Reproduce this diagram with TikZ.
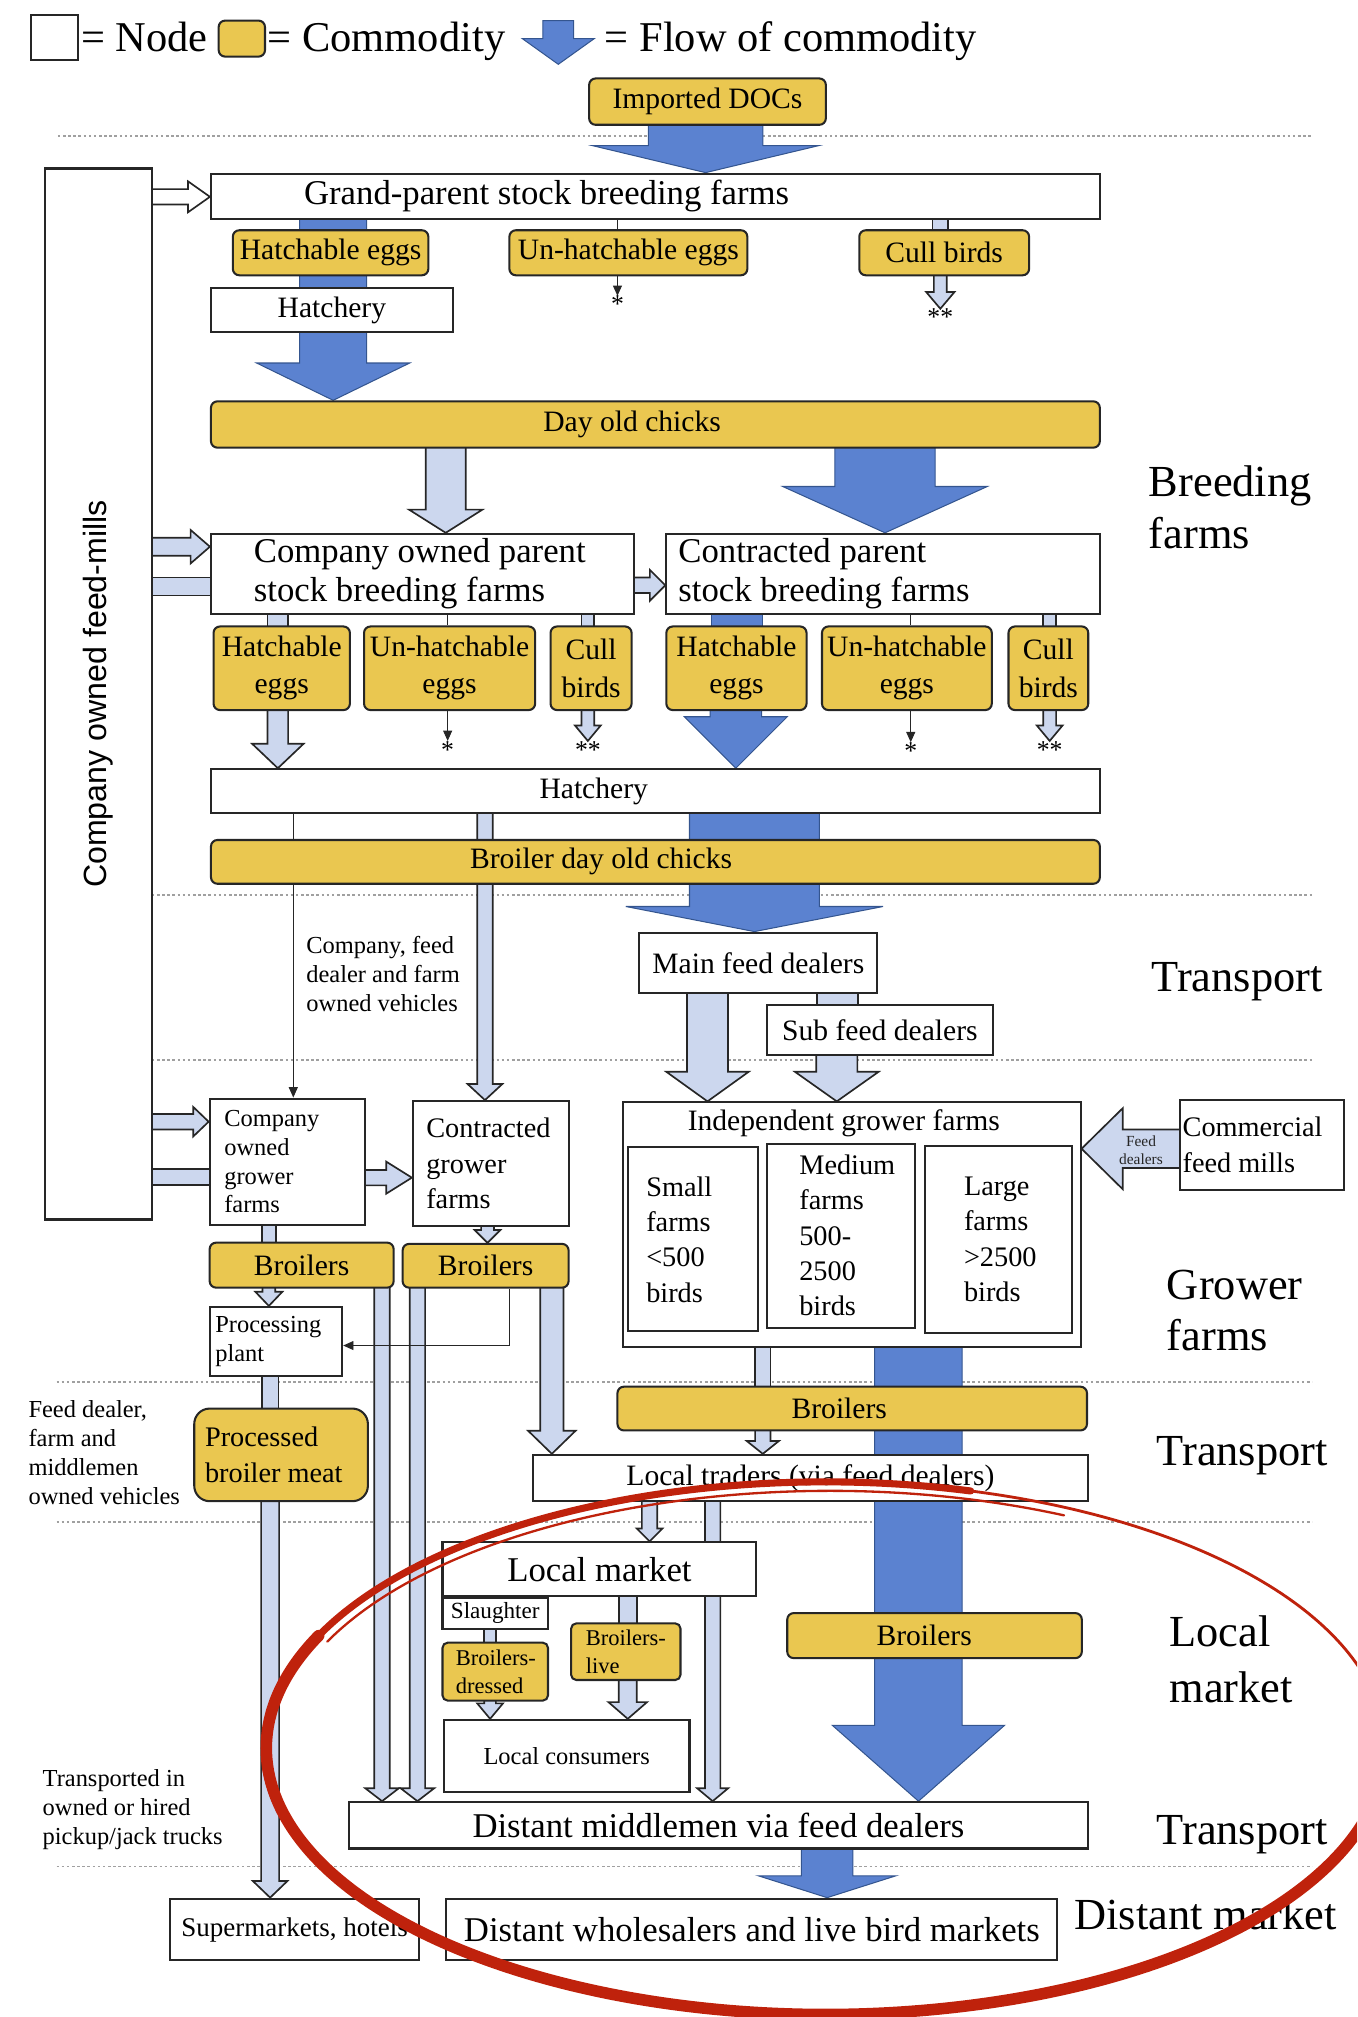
\documentclass[tikz,border=0pt]{standalone}
\usepackage{fontspec}
\usepackage{graphicx}
\setmainfont{Liberation Serif}
\newfontfamily\arialfont{Liberation Sans}
\usetikzlibrary{calc,arrows.meta}
\pgfdeclarelayer{background}
\pgfsetlayers{background,main}
\definecolor{commodity}{HTML}{EAC750}
\definecolor{flowblue}{HTML}{5B82D0}
\definecolor{flowedge}{HTML}{34558F}
\definecolor{palefill}{HTML}{CCD7EE}
\definecolor{edgegray}{HTML}{262626}
\definecolor{dotgray}{HTML}{A0A0A0}
\definecolor{annot}{HTML}{BF220C}
\newcommand{\fsz}[2]{\fontsize{#1pt}{#2pt}\selectfont}
% box from corners, centred text
\newcommand{\mkbox}[7]{%
  \pgfmathsetmacro{\mkW}{#5-#3}\pgfmathsetmacro{\mkH}{#6-#4}%
  \pgfmathsetmacro{\mkX}{(#3+#5)/2}\pgfmathsetmacro{\mkY}{(#4+#6)/2}%
  \node[#2, minimum width=\mkW pt, minimum height=\mkH pt] (#1) at (\mkX,\mkY) {#7};}
% box from corners, text left aligned with a left pad
\newcommand{\mkboxl}[9]{%
  \pgfmathsetmacro{\mkW}{#7-#5}\pgfmathsetmacro{\mkH}{#8-#6}%
  \pgfmathsetmacro{\mkX}{(#5+#7)/2}\pgfmathsetmacro{\mkY}{(#6+#8)/2}%
  \node[#2, minimum width=\mkW pt, minimum height=\mkH pt,
    label={[anchor=west, xshift=#4pt, align=left, inner sep=0pt, #3]west:#9}] (#1) at (\mkX,\mkY) {};}
% block arrow downwards: style, x, from anchor, to anchor, shaft half, head half, head length
\newcommand{\flowdown}[7]{%
  \path[#1] let \p1=(#3), \p2=(#4) in
   ({(#2-#5)*1pt},{\y1+2pt}) -- ({(#2-#5)*1pt},{\y2+#7pt}) -- ({(#2-#6)*1pt},{\y2+#7pt})
   -- ({#2*1pt},\y2) -- ({(#2+#6)*1pt},{\y2+#7pt}) -- ({(#2+#5)*1pt},{\y2+#7pt})
   -- ({(#2+#5)*1pt},{\y1+2pt}) -- cycle;}
\newcommand{\flowbarv}[5]{%
  \path[#1] let \p1=(#3), \p2=(#4) in
   ({(#2-#5)*1pt},{\y1+2pt}) rectangle ({(#2+#5)*1pt},{\y2-2pt});}
\newcommand{\flowright}[7]{%
  \path[#1] let \p1=(#3), \p2=(#4) in
   ({\x1-2pt},{-(#2-#5)*1pt}) -- ({\x2-#7pt},{-(#2-#5)*1pt}) -- ({\x2-#7pt},{-(#2-#6)*1pt})
   -- (\x2,{-#2*1pt}) -- ({\x2-#7pt},{-(#2+#6)*1pt}) -- ({\x2-#7pt},{-(#2+#5)*1pt})
   -- ({\x1-2pt},{-(#2+#5)*1pt}) -- cycle;}
\newcommand{\flowleft}[7]{%
  \path[#1] let \p1=(#3), \p2=(#4) in
   ({\x1+2pt},{-(#2-#5)*1pt}) -- ({\x2+#7pt},{-(#2-#5)*1pt}) -- ({\x2+#7pt},{-(#2-#6)*1pt})
   -- (\x2,{-#2*1pt}) -- ({\x2+#7pt},{-(#2+#6)*1pt}) -- ({\x2+#7pt},{-(#2+#5)*1pt})
   -- ({\x1+2pt},{-(#2+#5)*1pt}) -- cycle;}
\newcommand{\flowbarh}[5]{%
  \path[#1] let \p1=(#3), \p2=(#4) in
   ({\x1-2pt},{-(#2-#5)*1pt}) rectangle ({\x2+2pt},{-(#2+#5)*1pt});}
\newcommand{\vlink}[4]{%
  \draw[#1] let \p1=(#3), \p2=(#4) in ({#2*1pt},\y1) -- ({#2*1pt},\y2);}

\tikzset{
  nodebox/.style={draw=edgegray, line width=1.6pt, fill=white, inner sep=0pt},
  combox/.style={draw=edgegray, line width=1.6pt, fill=commodity, rounded corners=5pt, inner sep=0pt},
  bigtxt/.style={font=\fsz{27}{30}},
  midtxt/.style={font=\fsz{23}{29}},
  farmtxt/.style={font=\fsz{22}{27.5}},
  smtxt/.style={font=\fsz{19}{22.5}},
  tinytxt/.style={font=\fsz{17.5}{22}},
  regtxt/.style={font=\fsz{34.5}{40}, align=left, inner sep=0pt},
  startxt/.style={font=\fsz{20}{20}, inner sep=0pt, anchor=north},
  blueflow/.style={fill=flowblue, draw=flowedge, line width=0.8pt},
  paleflow/.style={fill=palefill, draw=edgegray, line width=1.3pt},
  whiteflow/.style={fill=white, draw=edgegray, line width=1.3pt},
  thinlink/.style={draw=edgegray, line width=0.7pt},
  thinarrow/.style={thinlink, -{Triangle[length=8pt,width=7pt]}},
  divider/.style={draw=dotgray, line width=1.5pt, dash pattern=on 2pt off 2pt},
  redmark/.style={draw=annot, line cap=round},
}

\begin{document}
\begin{tikzpicture}[x=1pt,y=-1pt]
\useasboundingbox (0,0) rectangle (1055,1568);

% ---------- legend ----------
\mkbox{lgnode}{nodebox}{24}{12}{61}{47}{}
\node[anchor=base west, font=\fsz{33}{38}, inner sep=0pt] (lgnodet) at (63,40) {= Node};
\mkbox{lgcomm}{combox}{170}{16}{206}{44}{}
\node[anchor=base west, font=\fsz{33}{38}, inner sep=0pt] (lgcommt) at (208,40) {= Commodity};
\path[blueflow] (422,16) -- (422,30) -- (406,30) -- (434,50) -- (462,30) -- (446,30) -- (446,16) -- cycle;
\node[anchor=base west, font=\fsz{33}{38}, inner sep=0pt] (lgflowt) at (470,40) {= Flow of commodity};

% ---------- breeding farms ----------
\mkbox{imp}{combox, midtxt}{458}{61}{642}{97}{Imported DOCs}
\mkbox{fm}{nodebox}{35}{131}{118}{948}{\rotatebox{90}{\arialfont\fsz{25}{30}Company owned feed-mills}}
\mkboxl{gp}{nodebox}{bigtxt}{73}{164}{135}{855}{170}{Grand-parent stock breeding farms}
\mkbox{he1}{combox, midtxt}{181}{179}{333}{214}{Hatchable eggs}
\mkbox{uh1}{combox, midtxt}{396}{179}{581}{214}{Un-hatchable eggs}
\mkbox{cb1}{combox, midtxt}{668}{179}{800}{214}{Cull birds}
\mkbox{hat1}{nodebox, midtxt}{164}{224}{352}{258}{Hatchery}
\node[startxt] (st1) at (480,230) {*};
\node[startxt] (st2) at (731,240) {**};
\mkboxl{doc}{combox}{midtxt}{259}{164}{312}{855}{348}{Day old chicks}
\mkboxl{cp}{nodebox}{bigtxt}{34}{164}{415}{493}{477}{Company owned parent\\stock breeding farms}
\mkboxl{kp}{nodebox}{bigtxt}{10}{518}{415}{855}{477}{Contracted parent\\stock breeding farms}
\mkbox{he2}{combox, midtxt, align=center}{166}{487}{272}{552}{Hatchable\\eggs}
\mkbox{uh2}{combox, midtxt, align=center}{283}{487}{416}{552}{Un-hatchable\\eggs}
\mkbox{cb2}{combox, midtxt, align=center}{428}{487}{491}{552}{Cull\\birds}
\mkbox{he3}{combox, midtxt, align=center}{518}{487}{627}{552}{Hatchable\\eggs}
\mkbox{uh3}{combox, midtxt, align=center}{639}{487}{771}{552}{Un-hatchable\\eggs}
\mkbox{cb3}{combox, midtxt, align=center}{784}{487}{846}{552}{Cull\\birds}
\node[startxt] (st3) at (348,576) {*};
\node[startxt] (st4) at (457,576) {**};
\node[startxt] (st5) at (708,577) {*};
\node[startxt] (st6) at (816,576) {**};
\mkboxl{hat2}{nodebox}{midtxt}{256}{164}{598}{855}{632}{Hatchery}
\mkboxl{bdoc}{combox}{midtxt}{202}{164}{653}{855}{687}{Broiler day old chicks}

% ---------- transport / grower farms ----------
\node[smtxt, align=left, anchor=west, inner sep=0pt] (vehlbl) at (238,757) {Company, feed\\dealer and farm\\owned vehicles};
\mkbox{mfd}{nodebox, midtxt}{497}{725}{682}{772}{Main feed dealers}
\mkbox{sfd}{nodebox, midtxt}{596}{781}{772}{820}{Sub feed dealers}
\mkboxl{cg}{nodebox}{smtxt}{12}{163}{854}{284}{952}{Company\\owned\\grower\\farms}
\mkboxl{kg}{nodebox}{farmtxt}{11}{321}{856}{442}{953}{Contracted\\grower\\farms}
\mkbox{ind}{nodebox, label={[midtxt, anchor=center, xshift=-6pt, yshift=-17pt]north:Independent grower farms}}{484}{857}{840}{1047}{}
\mkboxl{sm}{nodebox}{farmtxt}{15}{488}{892}{589}{1035}{Small\\farms\\<500\\birds}
\mkboxl{md}{nodebox}{farmtxt}{26}{596}{889}{711}{1032}{Medium\\farms\\500-\\2500\\birds}
\mkboxl{lg}{nodebox}{farmtxt}{31}{719}{891}{833}{1036}{Large\\farms\\>2500\\birds}
\mkboxl{cfm}{nodebox}{farmtxt}{3}{917}{855}{1045}{925}{Commercial\\feed mills}
\mkbox{brc}{combox, midtxt}{163}{966}{306}{1001}{Broilers}
\mkbox{brk}{combox, midtxt}{313}{967}{442}{1001}{Broilers}
\mkboxl{pp}{nodebox}{smtxt}{5}{163}{1016}{266}{1070}{Processing\\plant}
\mkboxl{pbm}{combox, rounded corners=12pt}{farmtxt}{9}{151}{1095}{286}{1167}{Processed\\broiler meat}
\node[smtxt, align=left, anchor=west, inner sep=0pt] (mvlbl) at (22,1129.5) {Feed dealer,\\farm and\\middlemen\\owned vehicles};
\mkboxl{bri}{combox}{midtxt}{136}{480}{1078}{845}{1112}{Broilers}
\mkbox{lt}{nodebox, midtxt}{414}{1131}{846}{1167}{Local traders (via feed dealers)}

% ---------- local market ----------
\mkbox{lm}{nodebox, bigtxt}{344}{1199}{588}{1241}{Local market}
\mkbox{sl}{nodebox, font=\fsz{18}{20}}{344}{1242}{426}{1266}{Slaughter}
\mkboxl{brd}{combox, rounded corners=4pt}{tinytxt}{11}{344}{1277}{426}{1322}{Broilers-\\dressed}
\mkboxl{brl}{combox, rounded corners=4pt}{tinytxt}{12}{444}{1262}{529}{1306}{Broilers-\\live}
\mkbox{lc}{nodebox, smtxt}{345}{1337}{536}{1393}{Local consumers}
\mkboxl{brr}{combox}{midtxt}{70}{612}{1254}{841}{1289}{Broilers}
\mkbox{dm}{nodebox, bigtxt}{271}{1401}{846}{1437}{Distant middlemen via feed dealers}
\node[smtxt, align=left, anchor=west, inner sep=0pt] (trlbl) at (33,1407) {Transported in\\owned or hired\\pickup/jack trucks};
\mkbox{sh}{nodebox, font=\fsz{21}{25}}{132}{1476}{326}{1524}{Supermarkets, hotels}
\mkbox{dw}{nodebox, bigtxt}{347}{1476}{822}{1524}{Distant wholesalers and live bird markets}

% ---------- region labels ----------
\node[regtxt, anchor=north west] (rbreed) at (893,362) {Breeding\\farms};
\node[regtxt, anchor=base west] (rtrans1) at (895,771) {Transport};
\node[regtxt, anchor=north west] (rgrow) at (907,987) {Grower\\farms};
\node[regtxt, anchor=base west] (rtrans2) at (899,1139) {Transport};
\node[regtxt, anchor=north west, font=\fsz{34.5}{43}] (rlocal) at (909,1256) {Local\\market};
\node[regtxt, anchor=base west] (rtrans3) at (899,1434) {Transport};
\node[regtxt, anchor=base west] (rdist) at (835,1500) {Distant market};

% ---------- connectors (behind the boxes) ----------
\begin{pgfonlayer}{background}
\draw[divider] (45,106) -- (1020,106);
\draw[divider] (118,696) -- (1020,696);
\draw[divider] (118,824) -- (1020,824);
\draw[divider] (44,1074) -- (1020,1074);
\draw[divider] (44,1183) -- (1020,1183);
\draw[divider] (44,1451) -- (1020,1451);

\flowdown{blueflow}{548.5}{imp.south}{gp.north}{44.5}{88}{21}
\flowdown{blueflow}{259}{gp.south}{doc.north}{26}{59.5}{29}
\vlink{thinlink}{480}{gp.south}{uh1.north}
\vlink{thinarrow}{480}{uh1.south}{st1.north}
\flowbarv{paleflow}{731}{gp.south}{cb1.north}{6}
\flowdown{paleflow}{731}{cb1.south}{st2.north}{5}{11}{13}
\flowright{whiteflow}{153}{fm.east}{gp.west}{6}{12}{17}

\flowdown{paleflow}{346.5}{doc.south}{cp.north}{15.5}{28.5}{18}
\flowdown{blueflow}{688}{doc.south}{kp.north}{39}{79.5}{36}
\flowright{paleflow}{425}{fm.east}{cp.west}{7}{13}{15}
\flowbarh{paleflow}{456}{fm.east}{cp.west}{7}
\flowright{paleflow}{455}{cp.east}{kp.west}{6}{12}{12}

\flowbarv{paleflow}{216}{cp.south}{he2.north}{8}
\flowdown{paleflow}{216}{he2.south}{hat2.north}{8}{20}{19}
\vlink{thinlink}{348}{cp.south}{uh2.north}
\vlink{thinarrow}{348}{uh2.south}{st3.north}
\flowbarv{paleflow}{457}{cp.south}{cb2.north}{5}
\flowdown{paleflow}{457}{cb2.south}{st4.north}{5}{10}{12}
\flowbarv{blueflow}{573}{kp.south}{he3.north}{20}
\flowdown{blueflow}{572}{he3.south}{hat2.north}{20}{40}{40}
\vlink{thinlink}{708}{kp.south}{uh3.north}
\vlink{thinarrow}{708}{uh3.south}{st5.north}
\flowbarv{paleflow}{816}{kp.south}{cb3.north}{5}
\flowdown{paleflow}{816}{cb3.south}{st6.north}{5}{10}{12}

\vlink{thinarrow}{228}{hat2.south}{cg.north}
\flowdown{paleflow}{377}{hat2.south}{kg.north}{6}{13.5}{12.5}
\flowdown{blueflow}{586.5}{hat2.south}{mfd.north}{50.5}{100}{19.5}
\flowdown{paleflow}{550}{mfd.south}{ind.north}{16}{32}{23}
\flowbarv{paleflow}{651}{mfd.south}{sfd.north}{16}
\flowdown{paleflow}{650.5}{sfd.south}{ind.north}{16}{32.5}{23}
\flowright{paleflow}{872}{fm.east}{cg.west}{6}{11.5}{12}
\flowbarh{paleflow}{915}{fm.east}{cg.west}{6}
\flowright{paleflow}{915.5}{cg.east}{kg.west}{6}{12.5}{20}
\flowleft{paleflow}{893}{cfm.west}{ind.east}{15}{31.5}{32}

\flowbarv{paleflow}{209}{cg.south}{brc.north}{5.5}
\flowdown{paleflow}{379}{kg.south}{brk.north}{5}{10}{10}
\flowdown{paleflow}{209}{brc.south}{pp.north}{5}{10.5}{11}
\flowdown{paleflow}{297}{brc.south}{dm.north}{6}{13}{10}
\flowdown{paleflow}{324.5}{brk.south}{dm.north}{6}{13}{10}
\flowdown{paleflow}{429}{brk.south}{lt.north}{9}{18.5}{18}
\flowbarv{paleflow}{210}{pp.south}{pbm.north}{6.5}
\flowdown{paleflow}{210}{pbm.south}{sh.north}{7}{13.5}{13}
\flowbarv{paleflow}{593}{ind.south}{bri.north}{6}
\flowdown{paleflow}{593}{bri.south}{lt.north}{6}{12.5}{10}
\flowdown{blueflow}{714}{ind.south}{dm.north}{34}{67}{59}
\flowdown{paleflow}{505}{lt.south}{lm.north}{6}{10}{10}
\flowdown{paleflow}{554}{lt.south}{dm.north}{6}{12}{10}
\flowbarv{paleflow}{488}{lm.south}{brl.north}{7}
\flowdown{paleflow}{488}{brl.south}{lc.north}{7}{15}{13}
\flowbarv{paleflow}{381}{sl.south}{brd.north}{4.5}
\flowdown{paleflow}{381}{brd.south}{lc.north}{4.5}{10}{12}
\flowdown{blueflow}{643}{dm.south}{dw.north}{20}{53.5}{17}
\draw[thinarrow] let \p1=(brk.south), \p2=(pp.east) in (396pt,\y1) -- (396pt,-1046pt) -- (\x2,-1046pt);
\end{pgfonlayer}

\node[font=\fsz{12}{14}, align=center, inner sep=0pt, text=edgegray] (fdl) at (887,894) {Feed\\dealers};

% ---------- red annotation ----------
\begin{scope}
\clip (0,0) rectangle (1055,1568);
\draw[redmark, line width=9pt] ({642+435*cos(-15)},{1359+207*sin(-15)}) arc[start angle=-15, end angle=205, x radius=435, y radius=207];
\draw[redmark, line width=5.5pt] ({642+435*cos(205)},{1359+207*sin(205)}) arc[start angle=205, end angle=285, x radius=435, y radius=207];
\draw[redmark, line width=2.2pt] ({642+435*cos(285)},{1359+207*sin(285)}) arc[start angle=285, end angle=345, x radius=435, y radius=207];
\draw[redmark, line width=1.8pt] ({645+431*cos(205)},{1362+203*sin(205)}) arc[start angle=205, end angle=295, x radius=431, y radius=203];
\draw[redmark, line width=1.5pt] ({640+437*cos(95)},{1357+211*sin(95)}) arc[start angle=95, end angle=175, x radius=437, y radius=211];
\end{scope}
\end{tikzpicture}
\end{document}
